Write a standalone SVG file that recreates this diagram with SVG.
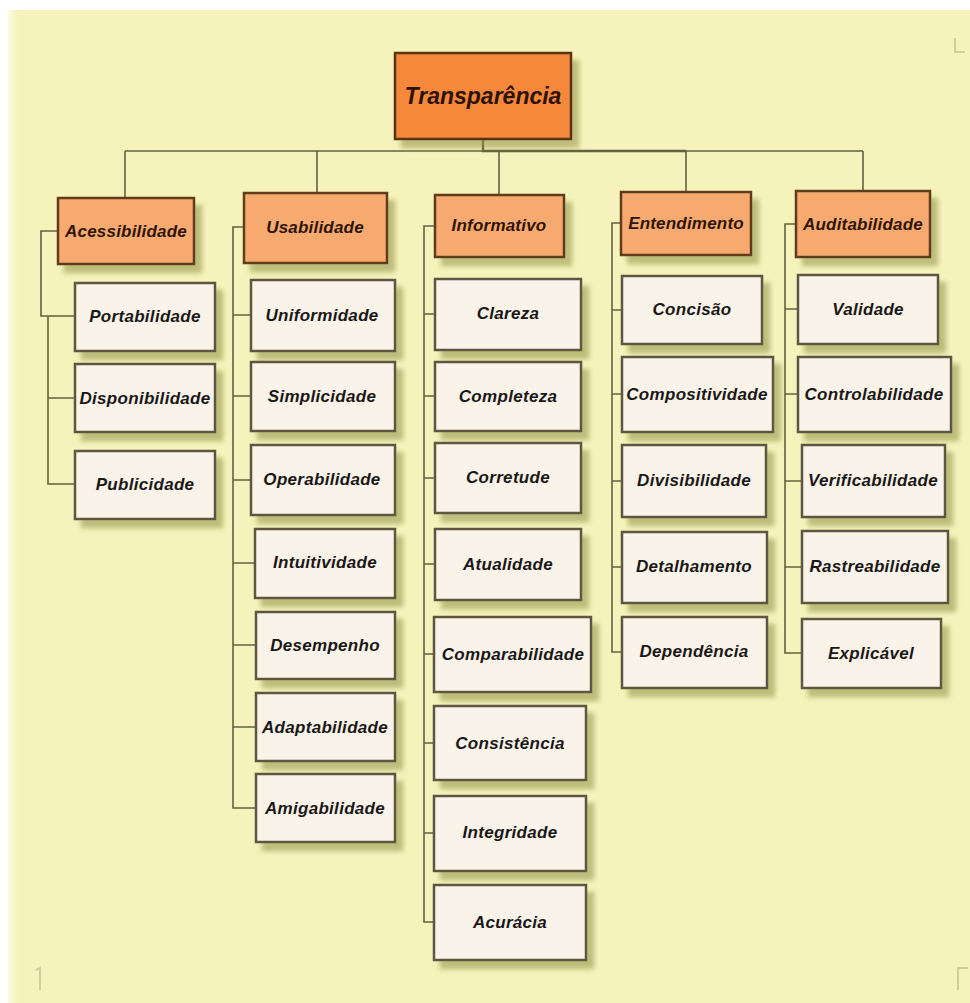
<svg xmlns="http://www.w3.org/2000/svg" width="970" height="1003" viewBox="0 0 970 1003">
<defs>
<filter id="sh" x="-10%" y="-10%" width="130%" height="140%">
<feDropShadow dx="7" dy="8" stdDeviation="2.5" flood-color="#9a9850" flood-opacity="0.6"/>
</filter>
<linearGradient id="bgl" x1="0" y1="0" x2="1" y2="0">
<stop offset="0" stop-color="#fbfbe0"/>
<stop offset="1" stop-color="#f5f3bb"/>
</linearGradient>
</defs>
<style>
.root rect{fill:#f5883a;stroke:#5a3212;stroke-width:2.5;filter:url(#sh)}
.l1 rect{fill:#f7aa70;stroke:#5e3e1e;stroke-width:2.5;filter:url(#sh)}
.l2 rect{fill:#faf3ea;stroke:#5f5642;stroke-width:2.5;filter:url(#sh)}
text{font-family:"Liberation Sans",Arial,sans-serif;font-weight:bold;font-style:italic;text-anchor:middle;dominant-baseline:central}
.root text{font-size:23px;fill:#2e1200}
.l1 text{font-size:17px;fill:#2e1405;letter-spacing:0.2px}
.l2 text{font-size:17px;fill:#1a1816;letter-spacing:0.3px}
#connectors path{fill:none;stroke:#626140;stroke-width:1.6}
#connectors path.thick{stroke-width:2.4}
.mark{fill:none;stroke:#cfcc9e;stroke-width:2}
</style>
<rect x="0" y="0" width="970" height="1003" fill="#ffffff"/>
<rect x="8" y="10" width="962" height="993" fill="#f5f3bb"/>
<rect x="8" y="10" width="10" height="993" fill="url(#bgl)"/>
<path class="mark" d="M955,38 V52 H965"/>
<path class="mark" d="M36,970 L40,968 V990"/>
<path class="mark" d="M958,990 V968 H968"/>

<g id="connectors">
<path d="M125,151 H863 M125,151 V198 M317,151 V193 M499,151 V195 M686,151 V192 M863,151 V191"/>
<path class="thick" d="M483,139 V151 H686"/>
<path d="M58,231 H41 V316 H75 M48,316 V484 H75 M48,398 H75"/>
<path d="M244,227 H233 V808 H256 M233,315 H251 M233,396 H251 M233,480 H251 M233,563 H255 M233,645 H256 M233,727 H256"/>
<path d="M435,226 H424 V922 H434 M424,314 H435 M424,396 H435 M424,478 H435 M424,564 H435 M424,654 H434 M424,743 H434 M424,833 H434"/>
<path d="M621,223 H612 V652 H622 M612,310 H622 M612,394 H622 M612,481 H622 M612,567 H622"/>
<path d="M796,224 H785 V653 H802 M785,309 H798 M785,394 H798 M785,481 H802 M785,567 H802"/>
</g>

<g id="n-transparencia" class="root"><rect x="395" y="53" width="176" height="86"/><text x="483" y="96">Transparência</text></g>

<g id="n-acessibilidade" class="l1"><rect x="58" y="198" width="136" height="66"/><text x="126" y="231">Acessibilidade</text></g>
<g id="n-usabilidade" class="l1"><rect x="244" y="193" width="143" height="70"/><text x="315" y="227">Usabilidade</text></g>
<g id="n-informativo" class="l1"><rect x="435" y="195" width="129" height="62"/><text x="499" y="225">Informativo</text></g>
<g id="n-entendimento" class="l1"><rect x="621" y="192" width="130" height="63"/><text x="686" y="223">Entendimento</text></g>
<g id="n-auditabilidade" class="l1"><rect x="796" y="191" width="134" height="66"/><text x="863" y="224">Auditabilidade</text></g>

<g id="n-portabilidade" class="l2"><rect x="75" y="283" width="140" height="68"/><text x="145" y="316">Portabilidade</text></g>
<g id="n-disponibilidade" class="l2"><rect x="75" y="364" width="140" height="68"/><text x="145" y="398">Disponibilidade</text></g>
<g id="n-publicidade" class="l2"><rect x="75" y="451" width="140" height="68"/><text x="145" y="484">Publicidade</text></g>

<g id="n-uniformidade" class="l2"><rect x="251" y="280" width="144" height="71"/><text x="322" y="315">Uniformidade</text></g>
<g id="n-simplicidade" class="l2"><rect x="251" y="362" width="144" height="69"/><text x="322" y="396">Simplicidade</text></g>
<g id="n-operabilidade" class="l2"><rect x="251" y="445" width="144" height="70"/><text x="322" y="479">Operabilidade</text></g>
<g id="n-intuitividade" class="l2"><rect x="255" y="529" width="140" height="69"/><text x="325" y="562">Intuitividade</text></g>
<g id="n-desempenho" class="l2"><rect x="256" y="612" width="139" height="67"/><text x="325" y="645">Desempenho</text></g>
<g id="n-adaptabilidade" class="l2"><rect x="256" y="693" width="139" height="68"/><text x="325" y="727">Adaptabilidade</text></g>
<g id="n-amigabilidade" class="l2"><rect x="256" y="774" width="139" height="68"/><text x="325" y="808">Amigabilidade</text></g>

<g id="n-clareza" class="l2"><rect x="435" y="279" width="146" height="71"/><text x="508" y="313">Clareza</text></g>
<g id="n-completeza" class="l2"><rect x="435" y="362" width="146" height="69"/><text x="508" y="396">Completeza</text></g>
<g id="n-corretude" class="l2"><rect x="435" y="443" width="146" height="70"/><text x="508" y="477">Corretude</text></g>
<g id="n-atualidade" class="l2"><rect x="435" y="529" width="146" height="71"/><text x="508" y="564">Atualidade</text></g>
<g id="n-comparabilidade" class="l2"><rect x="434" y="617" width="157" height="75"/><text x="513" y="654">Comparabilidade</text></g>
<g id="n-consistencia" class="l2"><rect x="434" y="706" width="152" height="74"/><text x="510" y="743">Consistência</text></g>
<g id="n-integridade" class="l2"><rect x="434" y="796" width="152" height="75"/><text x="510" y="832">Integridade</text></g>
<g id="n-acuracia" class="l2"><rect x="434" y="885" width="152" height="75"/><text x="510" y="922">Acurácia</text></g>

<g id="n-concisao" class="l2"><rect x="622" y="276" width="140" height="68"/><text x="692" y="309">Concisão</text></g>
<g id="n-compositividade" class="l2"><rect x="622" y="357" width="151" height="75"/><text x="697" y="394">Compositividade</text></g>
<g id="n-divisibilidade" class="l2"><rect x="622" y="445" width="144" height="72"/><text x="694" y="480">Divisibilidade</text></g>
<g id="n-detalhamento" class="l2"><rect x="622" y="532" width="145" height="71"/><text x="694" y="566">Detalhamento</text></g>
<g id="n-dependencia" class="l2"><rect x="622" y="617" width="145" height="71"/><text x="694" y="651">Dependência</text></g>

<g id="n-validade" class="l2"><rect x="798" y="275" width="140" height="69"/><text x="868" y="309">Validade</text></g>
<g id="n-controlabilidade" class="l2"><rect x="798" y="357" width="153" height="75"/><text x="874" y="394">Controlabilidade</text></g>
<g id="n-verificabilidade" class="l2"><rect x="802" y="445" width="143" height="72"/><text x="873" y="480">Verificabilidade</text></g>
<g id="n-rastreabilidade" class="l2"><rect x="802" y="531" width="146" height="72"/><text x="875" y="566">Rastreabilidade</text></g>
<g id="n-explicavel" class="l2"><rect x="802" y="619" width="139" height="69"/><text x="871" y="653">Explicável</text></g>
</svg>
